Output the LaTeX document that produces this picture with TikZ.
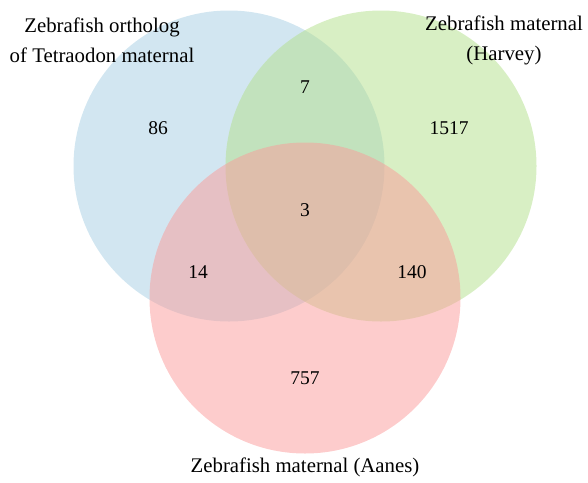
\documentclass[tikz,border=0pt]{standalone}
\usepackage{fontspec}
\setmainfont{Liberation Serif}
\usepackage{tikz}
\usetikzlibrary{positioning}
\usepackage{xcolor}

\definecolor{setblue}{RGB}{166,206,227}
\definecolor{setgreen}{RGB}{178,223,138}
\definecolor{setred}{RGB}{251,154,153}

\begin{document}
\begin{tikzpicture}[x=1pt, y=-1pt,
    setcircle/.style={circle, minimum size=311pt, inner sep=0pt, fill opacity=0.5, draw=none},
    count/.style={font=\fontsize{19.5}{23}\selectfont},
    setlabel/.style={font=\fontsize{20.8}{30}\selectfont, align=center}]
\useasboundingbox (0,0) rectangle (588,482);

% Draw the three sets
\node[setcircle, fill=setblue] (tetra) at (229,166) {};
\node[setcircle, fill=setgreen] (harvey) at (381,166) {};
\node[setcircle, fill=setred] (aanes) at (305,298) {};

% Add set labels
\node[setlabel] (tetralabel) at (102,40) {Zebrafish ortholog\\of Tetraodon maternal};
\node[setlabel] (harveylabel) at (504,40) {Zebrafish maternal\\(Harvey)};
\node[setlabel, below=1pt of aanes] (aaneslabel) {Zebrafish maternal (Aanes)};

% Add region counts
\node[count] (onlytetra) at (158,128) {86};
\node[count] (tetraharvey) at (305,87) {7};
\node[count] (onlyharvey) at (449,128) {1517};
\node[count] (allthree) at (305,210) {3};
\node[count] (tetraaanes) at (198,272) {14};
\node[count] (harveyaanes) at (412,272) {140};
\node[count] (onlyaanes) at (305,378) {757};

\end{tikzpicture}
\end{document}
